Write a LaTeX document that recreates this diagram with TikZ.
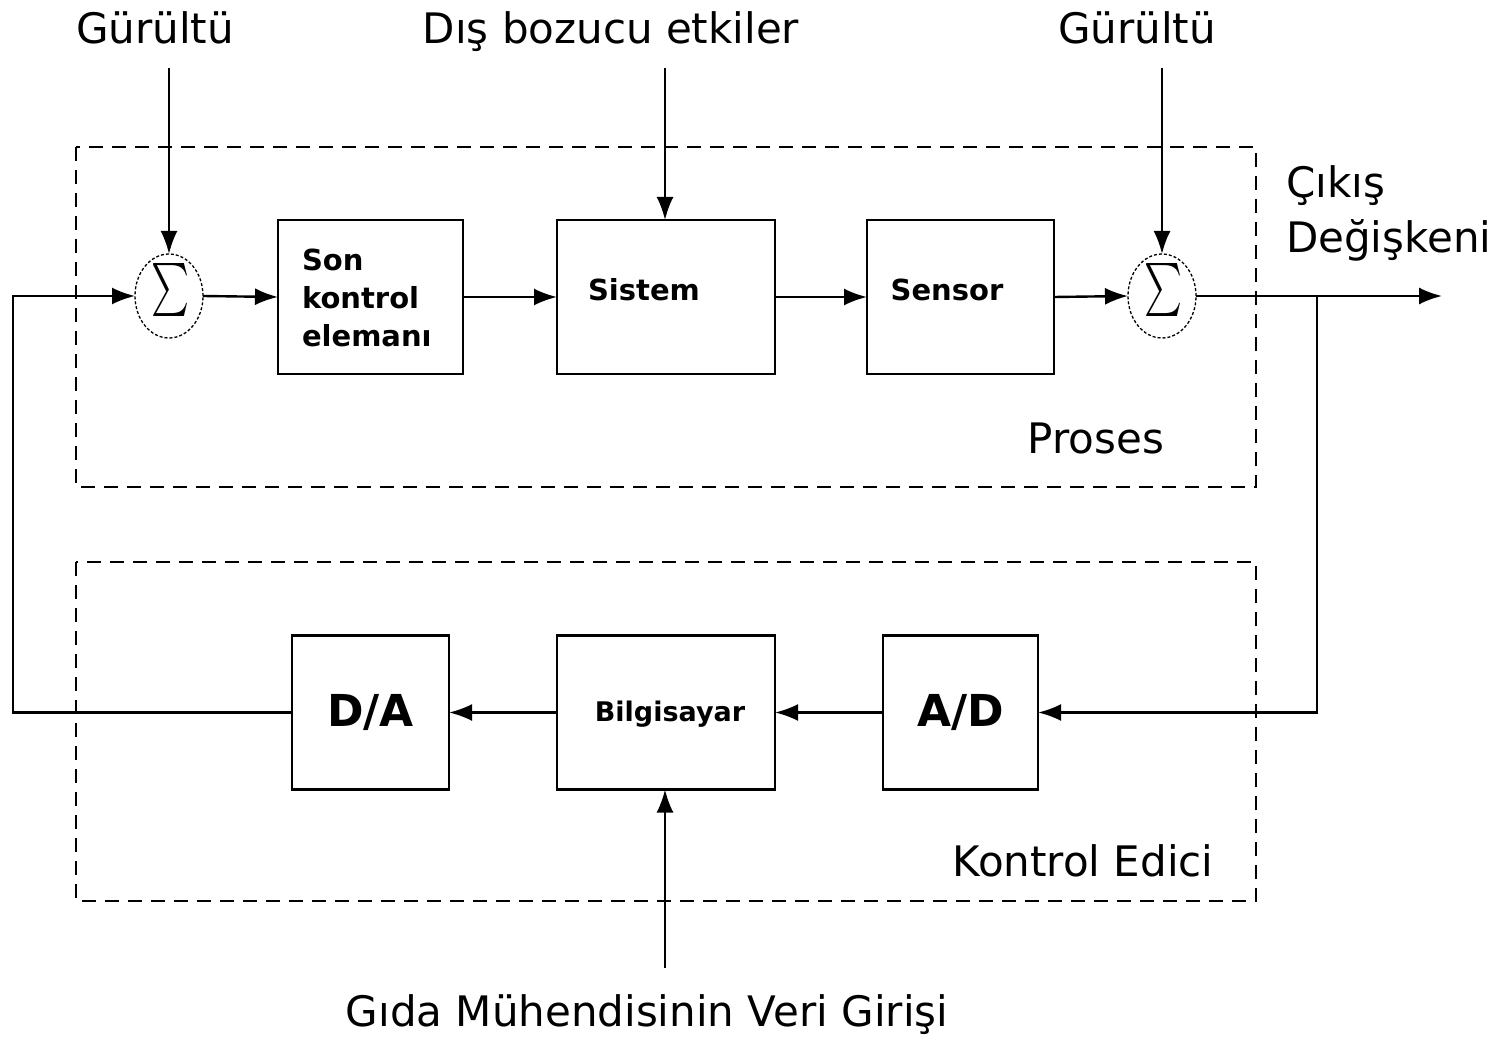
\documentclass[tikz,border=0pt]{standalone}
\usepackage{fontspec}
\setmainfont{DejaVu Sans}
\usetikzlibrary{arrows.meta,shapes.geometric}
\newcommand{\bigsum}{\scalebox{3.6}[5.3]{$\sum$}}
\begin{document}
\begin{tikzpicture}[x=1pt,y=-1pt,
  every node/.style={inner sep=0pt,outer sep=0pt},
  blk/.style={draw,line width=2.4pt,minimum width=#1,minimum height=154pt},
  summer/.style={draw,ellipse,dashed,dash pattern=on 3pt off 2pt,line width=1.3pt,
    minimum width=68pt,minimum height=84pt},
  wire/.style={line width=2.4pt},
  sig/.style={wire,-{Latex[length=23pt,width=17pt]}},
  region/.style={draw,line width=1.8pt,dash pattern=on 14pt off 9pt},
  big/.style={font=\fontsize{42}{50}\selectfont},
  lbl/.style={font=\fontsize{29}{38}\selectfont\bfseries},
  conv/.style={font=\fontsize{44}{50}\selectfont\bfseries}]
\useasboundingbox (0,0) rectangle (1506,1040);
\fill[white] (0,0) rectangle (1506,1040);

% process and controller regions
\draw[region] (76,147) rectangle (1256,487);
\draw[region] (76,562) rectangle (1256,901);

% process chain
\node[summer] (s1) at (169,296) {};
\node (sg1) at (170,290) {\bigsum};
\node[blk=185pt] (son) at (370.5,297) {};
\node[lbl,align=left,anchor=west] at (302,298) {Son\\kontrol\\elemanı};
\node[blk=218pt] (sis) at (666,297) {};
\node[lbl] at (644,290) {Sistem};
\node[blk=187pt] (sen) at (960.5,297) {};
\node[lbl] at (947,290) {Sensor};
\node[summer] (s2) at (1162,296) {};
\node (sg2) at (1163,290) {\bigsum};

% controller chain
\node[blk=157pt,conv] (da) at (370.5,712.5) {D/A};
\node[blk=218pt] (pc) at (666,712.5) {};
\node[lbl,font=\fontsize{27}{32}\selectfont\bfseries] at (670,714) {Bilgisayar};
\node[blk=155pt,conv] (ad) at (960.5,712.5) {A/D};

% labels
\node[big,anchor=base] (n1) at (155,44) {Gürültü};
\node[big,anchor=base] (dist) at (611,44) {Dış bozucu etkiler};
\node[big,anchor=base] (n2) at (1137,44) {Gürültü};
\node[big,anchor=base west] (out) at (1286,198) {Çıkış};
\node[big,anchor=base west] at (1286,253) {Değişkeni};
\node[big,anchor=base] at (1096,453) {Proses};
\node[big,anchor=base] at (1083,876) {Kontrol Edici};
\node[big,anchor=base] (usr) at (647,1026) {Gıda Mühendisinin Veri Girişi};

% free ends of the signal lines
\coordinate (n1e) at (169,68);
\coordinate (diste) at (665,68);
\coordinate (n2e) at (1162,68);
\coordinate (usre) at (665,968);
\coordinate (yend) at (1442,296);
\coordinate (tap) at (1317,296);

% forward path
\draw[sig] (n1e) -- (s1.north);
\draw[sig] (diste) -- (sis.north -| diste);
\draw[sig] (n2e) -- (s2.north);
\draw[sig] (s1.east) -- (son.west);
\draw[sig] (son.east) -- (sis.west);
\draw[sig] (sis.east) -- (sen.west);
\draw[sig] (sen.east) -- (s2.west);
\draw[sig] (s2.east) -- (yend);

% feedback path
\draw[sig] (tap) |- (ad.east);
\draw[sig] (ad.west) -- (pc.east);
\draw[sig] (pc.west) -- (da.east);
\draw[sig] (da.west) -- (13,712.5) |- (s1.west);
\draw[sig] (usre) -- (pc.south -| usre);
\end{tikzpicture}
\end{document}
